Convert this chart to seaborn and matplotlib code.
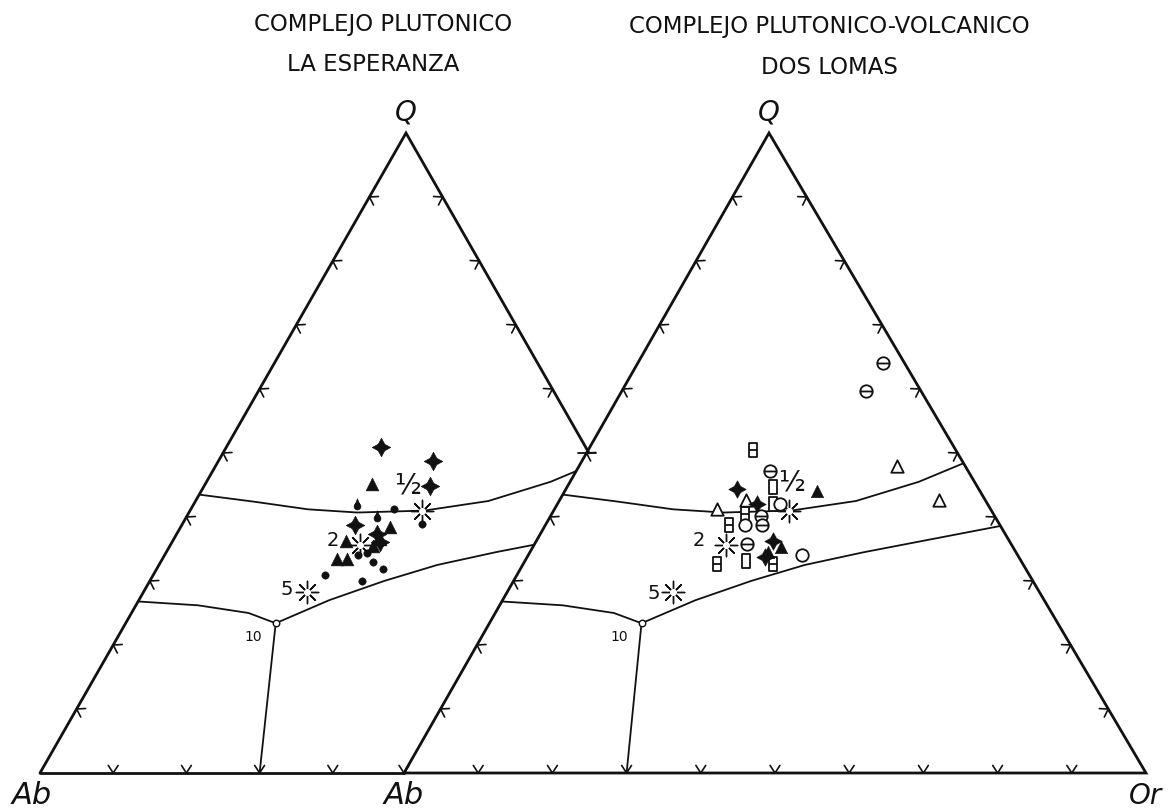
import numpy as np
import pandas as pd
import matplotlib
matplotlib.use("Agg")
import matplotlib.pyplot as plt
from matplotlib.path import Path
from matplotlib.patches import Polygon
import seaborn as sns

sns.set_theme(style="white")
plt.rcParams["font.family"] = ["DejaVu Sans"]

# ---------------------------------------------------------------------------
# Compositions in wt% normative Q - Ab - Or
# ---------------------------------------------------------------------------
# La Esperanza plutonic complex
esp_star_q = [50.9, 48.8, 44.9, 38.7, 37.4, 36.1]
esp_star_ab = [27.9, 21.9, 24.3, 37.6, 35.3, 35.5]
esp_star_or = [21.2, 29.3, 30.8, 23.7, 27.3, 28.4]

esp_tri_q = [45.2, 38.4, 36.3, 33.5, 33.5, 36.6, 35.4]
esp_tri_ab = [32.1, 33.0, 40.0, 42.7, 41.3, 35.3, 36.8]
esp_tri_or = [22.7, 28.6, 23.7, 23.8, 25.2, 28.1, 27.8]

esp_dot_q = [41.2, 38.9, 33.0, 31.9, 31.0, 30.0, 34.3, 34.0]
esp_dot_ab = [31.1, 28.4, 38.0, 37.2, 45.6, 41.0, 38.2, 39.5]
esp_dot_or = [27.7, 32.7, 29.0, 30.9, 23.4, 29.0, 27.5, 26.5]

esp_drop_q = [42.1, 40.2]
esp_drop_ab = [35.7, 33.9]
esp_drop_or = [22.2, 25.9]

# Dos Lomas plutonic-volcanic complex
dl_boxbar_q = [50.4, 40.5, 38.7, 32.7, 32.7]
dl_boxbar_ab = [27.3, 33.5, 36.6, 41.2, 33.7]
dl_boxbar_or = [22.3, 26.0, 24.7, 26.1, 33.6]

dl_theta_q = [47.2, 40.2, 38.7, 35.8, 64.1, 59.7]
dl_theta_ab = [26.7, 31.4, 32.1, 35.6, 2.9, 7.4]
dl_theta_or = [26.1, 28.4, 29.2, 28.6, 33.0, 32.9]

dl_box_q = [44.7, 42.1, 33.2]
dl_box_ab = [27.5, 28.9, 37.0]
dl_box_or = [27.8, 29.0, 29.8]

dl_ring_q = [42.1, 38.7, 34.0]
dl_ring_ab = [28.0, 34.4, 29.1]
dl_ring_or = [29.9, 26.9, 36.9]

dl_opentri_q = [41.3, 42.6, 48.0, 42.6]
dl_opentri_ab = [36.9, 32.2, 9.2, 6.3]
dl_opentri_or = [21.8, 25.2, 42.8, 51.1]

dl_tri_q = [44.1, 35.3, 34.6]
dl_tri_ab = [22.0, 31.2, 33.4]
dl_tri_or = [33.9, 33.5, 32.0]

dl_star_q = [44.4, 42.1, 36.3, 33.8]
dl_star_ab = [32.6, 31.1, 31.8, 34.2]
dl_star_or = [23.0, 26.8, 31.9, 32.0]

# Experimental phase boundaries of the granite system
upper_q = [43.5, 42.4, 41.2, 40.7, 41.0, 42.5, 45.5, 48.4]
upper_ab = [56.5, 49.6, 42.8, 36.3, 27.0, 17.5, 7.5, 0.0]
upper_or = [0.0, 8.0, 16.0, 23.0, 32.0, 40.0, 47.0, 51.6]

lower_right_q = [23.4, 27.0, 30.0, 32.5, 34.5, 36.5, 38.6]
lower_right_ab = [56.1, 47.0, 38.0, 29.5, 20.5, 10.5, 0.0]
lower_right_or = [20.5, 26.0, 32.0, 38.0, 45.0, 53.0, 61.4]

lower_left_q = [26.8, 26.2, 25.0, 23.4]
lower_left_ab = [73.2, 65.3, 59.0, 56.1]
lower_left_or = [0.0, 8.5, 16.0, 20.5]

feld_q = [23.4, 0.0]
feld_ab = [56.1, 70.0]
feld_or = [20.5, 30.0]

# Ternary minima for P(H2O) in kbar
min_labels = ["1/2", "2", "5"]
min_q = [41.0, 35.7, 28.3]
min_ab = [27.3, 38.5, 49.4]
min_or = [31.7, 25.8, 22.3]

eut_label = "10"
eut_q, eut_ab, eut_or = 23.4, 56.1, 20.5

titles_left = ["COMPLEJO PLUTONICO", "LA ESPERANZA"]
titles_right = ["COMPLEJO PLUTONICO-VOLCANICO", "DOS LOMAS"]

# ---------------------------------------------------------------------------
# Layout (canvas in pixel units) and ternary projection
# ---------------------------------------------------------------------------
TRI_L = {"ab": (40.0, 773.0), "or": (772.0, 773.0), "q": (406.0, 133.0)}
TRI_R = {"ab": (404.0, 773.0), "or": (1146.0, 773.0), "q": (769.0, 133.0)}

# where each pressure label sits relative to its minimum, per diagram
LABEL_OFFSETS = {
    "L": {"1/2": (-15, -25), "2": (-27, -4), "5": (-20, -2)},
    "R": {"1/2": (3, -28), "2": (-27, -4), "5": (-19, 2)},
}


def tern(tri, q, ab, orr):
    q = np.asarray(q, float)
    ab = np.asarray(ab, float)
    orr = np.asarray(orr, float)
    s = q + ab + orr
    q, ab, orr = q / s, ab / s, orr / s
    x = ab * tri["ab"][0] + orr * tri["or"][0] + q * tri["q"][0]
    y = ab * tri["ab"][1] + orr * tri["or"][1] + q * tri["q"][1]
    return x, y


def lerp(p0, p1, t):
    return (p0[0] + t * (p1[0] - p0[0]), p0[1] + t * (p1[1] - p0[1]))


fig = plt.figure(figsize=(11.68, 8.09), dpi=100)
ax = fig.add_axes([0, 0, 1, 1])
ax.set_xlim(0, 1168)
ax.set_ylim(809, 0)
ax.axis("off")

INK = "#111111"
EDGE_LW = 2.0
CURVE_LW = 1.3

# visible part of the left diagram (the right one overlaps its lower right)
mid_r = lerp(TRI_R["ab"], TRI_R["q"], 0.5)
clip_left = Polygon([TRI_L["ab"], TRI_L["q"], mid_r, TRI_R["ab"]],
                    closed=True, transform=ax.transData, fc="none", ec="none")
ax.add_patch(clip_left)


def chevrons(p0, p1, centroid, fracs, clip=None):
    d = np.array(p1) - np.array(p0)
    d = d / np.hypot(*d)
    n = np.array([-d[1], d[0]])
    c = np.array(centroid)
    if np.dot(c - np.array(p0), n) < 0:
        n = -n
    L, th = 9.0, np.radians(33)
    for t in fracs:
        p = np.array(lerp(p0, p1, t))
        for sgn in (1, -1):
            a = p + L * (np.cos(th) * n + sgn * np.sin(th) * d)
            ln, = ax.plot([p[0], a[0]], [p[1], a[1]], color=INK, lw=1.2,
                          solid_capstyle="round")
            if clip is not None:
                ln.set_clip_path(clip)


def centroid(tri):
    return ((tri["ab"][0] + tri["or"][0] + tri["q"][0]) / 3,
            (tri["ab"][1] + tri["or"][1] + tri["q"][1]) / 3)


tens = [i / 10 for i in range(1, 10)]

# left triangle outline: Ab-Q side, Q down to the crossing, base to the shared Ab
mid_l = lerp(TRI_L["q"], TRI_L["or"], 0.5)
ax.plot([TRI_L["ab"][0], TRI_L["q"][0], mid_l[0]],
        [TRI_L["ab"][1], TRI_L["q"][1], mid_l[1]], color=INK, lw=EDGE_LW,
        solid_joinstyle="miter")
ax.plot([TRI_L["ab"][0], TRI_R["ab"][0]], [TRI_L["ab"][1], TRI_R["ab"][1]],
        color=INK, lw=EDGE_LW)
cL = centroid(TRI_L)
chevrons(TRI_L["ab"], TRI_L["q"], cL, tens)
chevrons(TRI_L["q"], TRI_L["or"], cL, [0.1, 0.2, 0.3, 0.4])
chevrons(TRI_L["ab"], TRI_L["or"], cL, [0.1, 0.2, 0.3, 0.4])

# right triangle outline
ax.plot([TRI_R["ab"][0], TRI_R["q"][0], TRI_R["or"][0], TRI_R["ab"][0]],
        [TRI_R["ab"][1], TRI_R["q"][1], TRI_R["or"][1], TRI_R["ab"][1]],
        color=INK, lw=EDGE_LW, solid_joinstyle="miter")
cR = centroid(TRI_R)
chevrons(TRI_R["ab"], TRI_R["q"], cR, tens)
chevrons(TRI_R["q"], TRI_R["or"], cR, tens)
chevrons(TRI_R["ab"], TRI_R["or"], cR, [0.0] + tens)

# crossing mark where the two diagrams meet
ax.plot([mid_r[0] - 9, mid_r[0] + 9], [mid_r[1], mid_r[1]], color=INK, lw=1.3)

# phase boundaries in both diagrams
for key, tri, clip in (("L", TRI_L, clip_left), ("R", TRI_R, None)):
    for cq, cab, cor in ((upper_q, upper_ab, upper_or),
                         (lower_right_q, lower_right_ab, lower_right_or),
                         (lower_left_q, lower_left_ab, lower_left_or),
                         (feld_q, feld_ab, feld_or)):
        x, y = tern(tri, cq, cab, cor)
        ln, = ax.plot(x, y, color=INK, lw=CURVE_LW)
        if clip is not None:
            ln.set_clip_path(clip)

    # ternary minima
    mx, my = tern(tri, min_q, min_ab, min_or)
    sns.scatterplot(x=mx, y=my, marker=(8, 2, 0), s=260, color=INK,
                    linewidth=1.0, ax=ax, legend=False, zorder=4)
    ax.scatter(mx, my, s=26, color="white", zorder=5, linewidth=0)
    for lab, xx, yy in zip(min_labels, mx, my):
        dx, dy = LABEL_OFFSETS[key][lab]
        txt = "½" if lab == "1/2" else lab
        ax.text(xx + dx, yy + dy, txt, fontsize=20 if lab == "1/2" else 14,
                ha="center", va="center", color=INK, zorder=6)
    # 10 kbar eutectic
    ex, ey = tern(tri, [eut_q], [eut_ab], [eut_or])
    ax.scatter(ex, ey, s=22, facecolors="white", edgecolors=INK,
               linewidths=1.0, zorder=5)
    ax.text(ex[0] - 22, ey[0] + 14, eut_label, fontsize=10, ha="center",
            va="center", color=INK)

# ---------------------------------------------------------------------------
# Marker shapes
# ---------------------------------------------------------------------------
def box_path(w=0.62, h=1.0, bar=False):
    verts = [(-w, -h), (w, -h), (w, h), (-w, h), (-w, -h)]
    codes = [Path.MOVETO, Path.LINETO, Path.LINETO, Path.LINETO, Path.CLOSEPOLY]
    if bar:
        verts += [(-w, 0), (w, 0)]
        codes += [Path.MOVETO, Path.LINETO]
    return Path(verts, codes)


theta_path = Path.make_compound_path(
    Path.unit_circle(), Path([(-1.0, 0.0), (1.0, 0.0)]))

ang = np.radians(np.linspace(55, 360 + 125, 40))
drop_verts = [(0.0, 1.0)] + [(0.6 * np.cos(a), -0.35 + 0.6 * np.sin(a)) for a in ang] + [(0.0, 1.0)]
drop_path = Path(drop_verts, closed=True)

STAR4 = (4, 1, 0)


def filled(tri, q, ab, orr, marker, s):
    x, y = tern(tri, q, ab, orr)
    sns.scatterplot(x=x, y=y, marker=marker, s=s, color=INK, edgecolor=INK,
                    linewidth=0.4, ax=ax, legend=False, zorder=7)


def hollow(tri, q, ab, orr, marker, s, lw=1.3):
    x, y = tern(tri, q, ab, orr)
    sns.scatterplot(x=x, y=y, marker=marker, s=s, facecolors="white",
                    edgecolor=INK, linewidth=lw, ax=ax, legend=False, zorder=7)


# La Esperanza
filled(TRI_L, esp_dot_q, esp_dot_ab, esp_dot_or, "o", 28)
filled(TRI_L, esp_drop_q, esp_drop_ab, esp_drop_or, drop_path, 70)
filled(TRI_L, esp_tri_q, esp_tri_ab, esp_tri_or, "^", 85)
filled(TRI_L, esp_star_q, esp_star_ab, esp_star_or, STAR4, 180)

# Dos Lomas
hollow(TRI_R, dl_boxbar_q, dl_boxbar_ab, dl_boxbar_or, box_path(bar=True), 90)
hollow(TRI_R, dl_box_q, dl_box_ab, dl_box_or, box_path(), 90)
hollow(TRI_R, dl_theta_q, dl_theta_ab, dl_theta_or, theta_path, 80)
hollow(TRI_R, dl_ring_q, dl_ring_ab, dl_ring_or, "o", 80)
hollow(TRI_R, dl_opentri_q, dl_opentri_ab, dl_opentri_or, "^", 80)
filled(TRI_R, dl_tri_q, dl_tri_ab, dl_tri_or, "^", 80)
filled(TRI_R, dl_star_q, dl_star_ab, dl_star_or, STAR4, 160)

# ---------------------------------------------------------------------------
# Text
# ---------------------------------------------------------------------------
for line, xx, yy in zip(titles_left, (383, 373), (24, 64)):
    ax.text(xx, yy, line, fontsize=16.5, ha="center", va="center", color=INK)
for line, yy in zip(titles_right, (26, 67)):
    ax.text(829, yy, line, fontsize=16.5, ha="center", va="center", color=INK)

for tri in (TRI_L, TRI_R):
    ax.text(tri["q"][0], 112, "Q", fontsize=20, style="italic", ha="center",
            va="center", color=INK)
ax.text(32, 795, "Ab", fontsize=22, style="italic", ha="center", va="center",
        color=INK)
ax.text(404, 795, "Ab", fontsize=22, style="italic", ha="center", va="center",
        color=INK)
ax.text(1146, 796, "Or", fontsize=20, style="italic", ha="center", va="center",
        color=INK)

fig.savefig("out.png", dpi=100, facecolor="white")
